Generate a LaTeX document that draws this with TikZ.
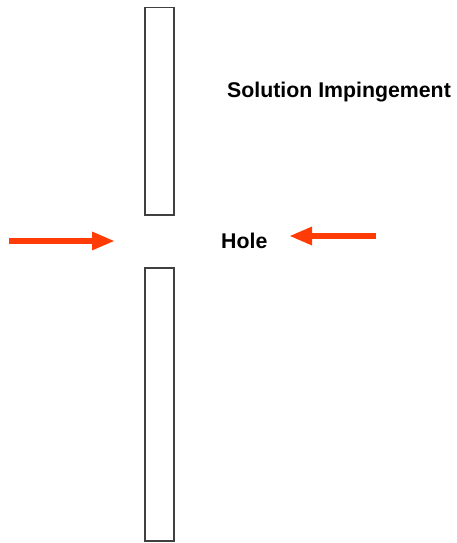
\documentclass[tikz,border=0pt]{standalone}
\usepackage{fontspec}
\setmainfont{Liberation Sans}
\usetikzlibrary{arrows.meta}
\definecolor{arrowred}{RGB}{255,60,5}
\begin{document}
\begin{tikzpicture}[x=1pt,y=-1pt,
  wall/.style={draw=black!75,line width=1.3pt},
  lbl/.style={font=\bfseries\fontsize{21.3}{24}\selectfont,inner sep=0pt},
  flow/.style={draw=arrowred,line width=6pt,-{Triangle[length=23pt,width=17pt]}}]
\useasboundingbox (0,0) rectangle (456,543);
\draw[wall] (145,7.5) rectangle (174,215) node[pos=0.5] (topwall) {};
\draw[wall] (145,268) rectangle (174,541) node[pos=0.5] (botwall) {};
\node[lbl,anchor=west] (sol) at (227,92) {Solution Impingement};
\node[lbl,anchor=west] (hole) at (221,241) {Hole};
\coordinate (l1) at (9,241);
\coordinate (l2) at (115,241);
\coordinate (r1) at (376,236);
\coordinate (r2) at (289,236);
\draw[flow] (l1) -- (l2);
\draw[flow] (r1) -- (r2);
\end{tikzpicture}
\end{document}
